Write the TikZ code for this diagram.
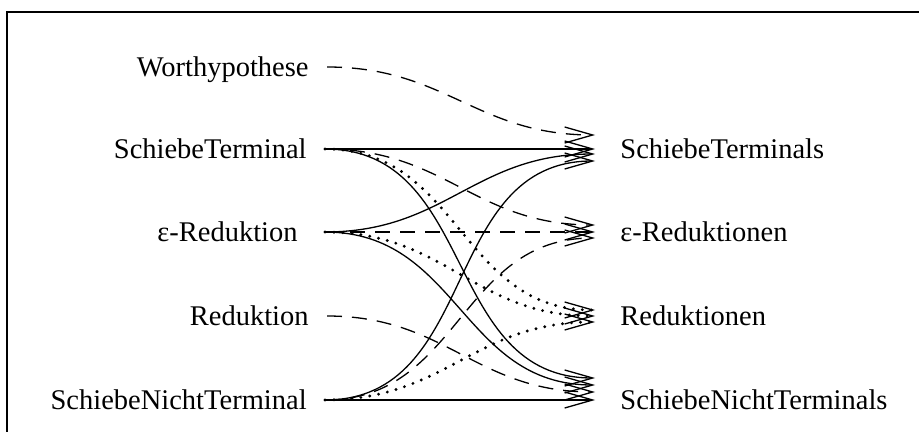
\documentclass[tikz,border=0pt]{standalone}
\usepackage{fontspec}
\setmainfont{Liberation Serif}
\usetikzlibrary{arrows.meta}

\tikzset{
  every node/.style={font=\fontsize{14.25}{17}\selectfont},
  links/.style={anchor=east, inner xsep=9pt, inner ysep=0pt, text height=9.4pt, text depth=0pt},
  rechts/.style={anchor=west, inner xsep=12.5pt, inner ysep=0pt, text height=9.4pt, text depth=0pt},
  pfeil/.style={-{Straight Barb[length=14pt,width=8pt,line width=0.65pt]}, line width=0.65pt},
  gestrichelt/.style={pfeil, dash pattern=on 7.5pt off 5pt},
  gepunktet/.style={pfeil, line width=1.6pt, line cap=round, dash pattern=on 0pt off 4.5pt},
  kurve/.style={out=0, in=180, looseness=1.1},
}

\begin{document}
\begin{tikzpicture}[x=0.5pt, y=-0.5pt]
                \useasboundingbox (0, 0) rectangle (919, 432);
                \draw[line width=1pt] (7, 432) -- (7, 12) -- (919, 12);

                % Quellen
                \node[links] (wh) at (327, 67) {Worthypothese};
                \node[links] (st) at (325, 149) {SchiebeTerminal};
                \node[links, inner xsep=13.5pt] (er) at (325, 232) {ε-Reduktion};
                \node[links] (re) at (327, 316) {Reduktion};
                \node[links] (snt) at (325, 400) {SchiebeNichtTerminal};

                % Ziele
                \node[rechts] (sts) at (595, 149) {SchiebeTerminals};
                \node[rechts] (ers) at (595, 232) {ε-Reduktionen};
                \node[rechts] (res) at (595, 316) {Reduktionen};
                \node[rechts] (snts) at (595, 400) {SchiebeNichtTerminals};

                \draw[gestrichelt] (wh.east) to[kurve] ([yshift=7pt]sts.west);

                \draw[pfeil] (st.east) -- (sts.west);
                \draw[gestrichelt] (st.east) to[kurve] ([yshift=3.5pt]ers.west);
                \draw[gepunktet] (st.east) to[kurve] ([yshift=3pt]res.west);
                \draw[pfeil] (st.east) to[kurve] ([yshift=11pt]snts.west);

                \draw[pfeil] (er.east) to[kurve] ([yshift=-2.5pt]sts.west);
                \draw[gestrichelt] (er.east) -- (ers.west);
                \draw[gepunktet] (er.east) to[kurve] (res.west);
                \draw[pfeil] (er.east) to[kurve] ([yshift=7.5pt]snts.west);

                \draw[gestrichelt] (re.east) to[kurve] ([yshift=4pt]snts.west);

                \draw[pfeil] (snt.east) to[kurve] ([yshift=-6pt]sts.west);
                \draw[gestrichelt] (snt.east) to[kurve] ([yshift=-3pt]ers.west);
                \draw[gepunktet] (snt.east) to[kurve] ([yshift=-3pt]res.west);
                \draw[pfeil] (snt.east) -- (snts.west);
\end{tikzpicture}
\end{document}
